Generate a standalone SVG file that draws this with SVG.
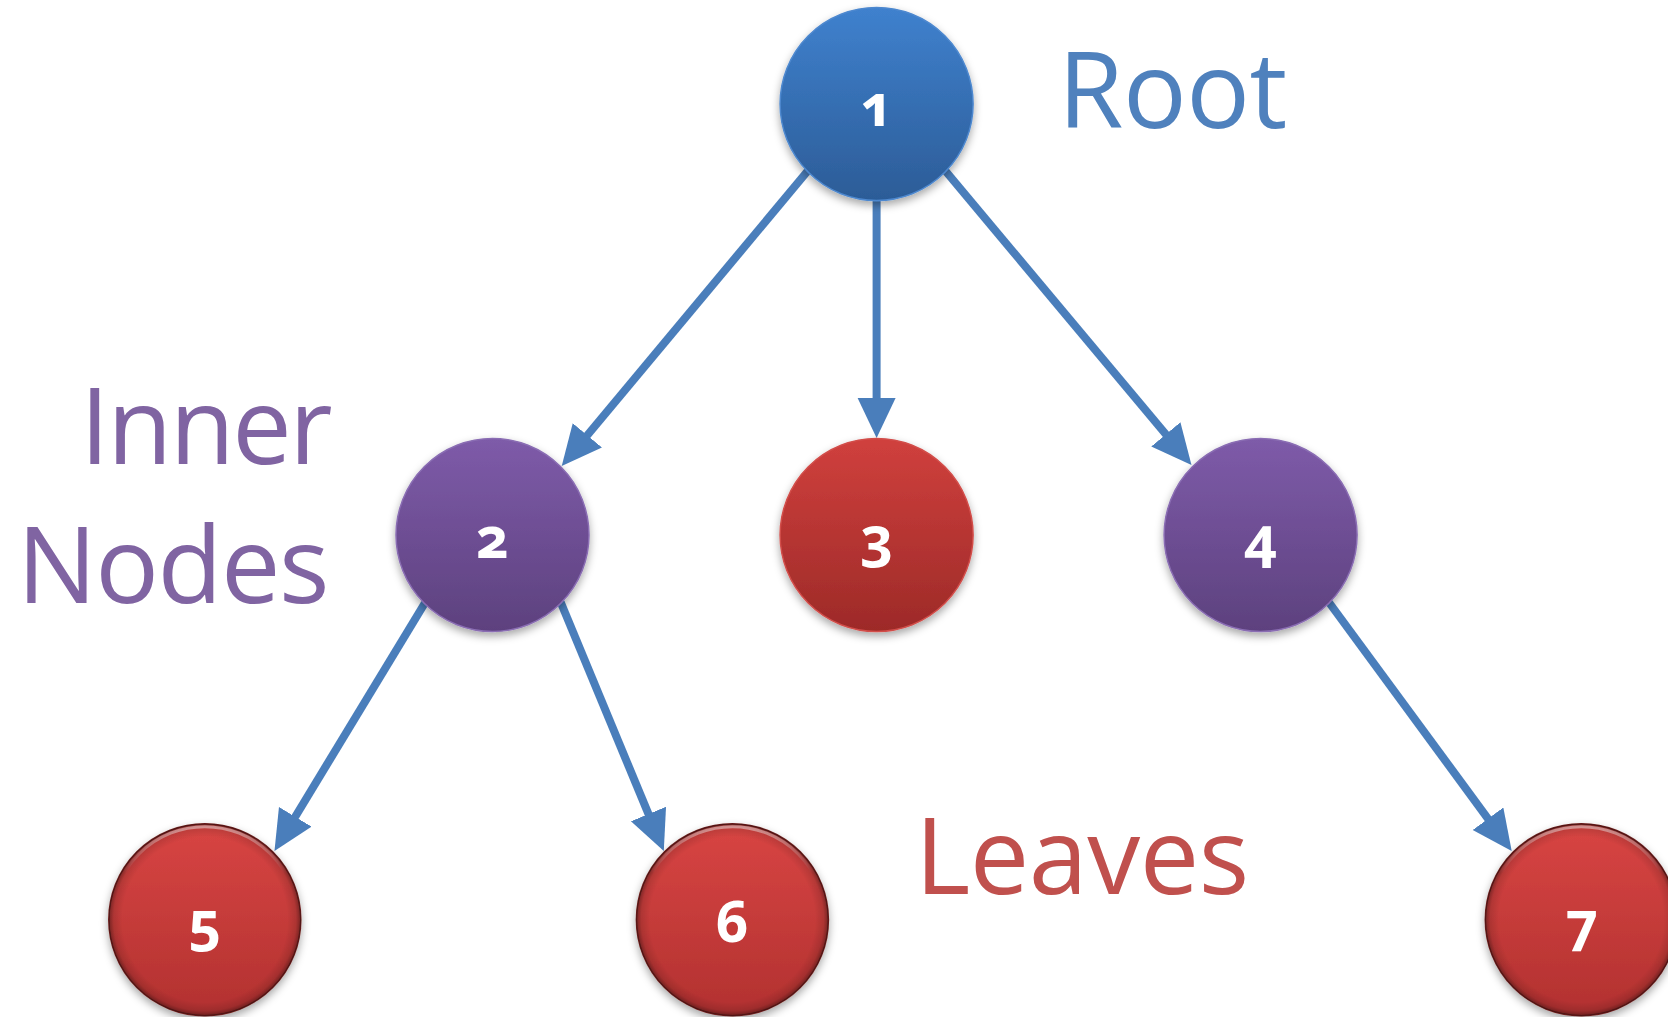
<svg xmlns="http://www.w3.org/2000/svg" width="1668" height="1017" viewBox="0 0 1668 1017">
<style>
.lbl{font-family:"Open Sans","Noto Sans","Liberation Sans",sans-serif;font-size:106px;}
.num{font-family:"Noto Sans","Open Sans","Liberation Sans",sans-serif;font-weight:bold;font-size:57px;fill:#ffffff;text-anchor:middle;font-variant-numeric:oldstyle-nums;font-feature-settings:"onum" 1;}
.edge{stroke:#4a7ebb;stroke-width:8;fill:none;marker-end:url(#arr);}
</style>
<defs>
<marker id="arr" markerUnits="userSpaceOnUse" markerWidth="42" markerHeight="40" refX="28" refY="19" orient="auto" viewBox="0 0 42 40">
<path d="M0,0 L40,19 L0,38 z" fill="#4a7ebb"/>
</marker>
<linearGradient id="gBlue" x1="0" y1="0" x2="0" y2="1">
<stop offset="0" stop-color="#3f81ce"/><stop offset="1" stop-color="#2c5c97"/>
</linearGradient>
<linearGradient id="gPurple" x1="0" y1="0" x2="0" y2="1">
<stop offset="0" stop-color="#7e5ba9"/><stop offset="1" stop-color="#5d417e"/>
</linearGradient>
<linearGradient id="gRed" x1="0" y1="0" x2="0" y2="1">
<stop offset="0" stop-color="#d0403d"/><stop offset="1" stop-color="#9d2a28"/>
</linearGradient>
<linearGradient id="gLeaf" x1="0" y1="0" x2="0" y2="1">
<stop offset="0" stop-color="#d84543"/><stop offset="1" stop-color="#b23130"/>
</linearGradient>
<radialGradient id="gBevel" cx="0.5" cy="0.5" r="0.5">
<stop offset="0.86" stop-color="#000" stop-opacity="0"/>
<stop offset="0.95" stop-color="#000" stop-opacity="0.12"/>
<stop offset="1" stop-color="#000" stop-opacity="0.4"/>
</radialGradient>
<linearGradient id="gHi" x1="0" y1="0" x2="0" y2="1">
<stop offset="0" stop-color="#fff" stop-opacity="0.45"/>
<stop offset="0.25" stop-color="#fff" stop-opacity="0"/>
</linearGradient>
<filter id="sh" x="-20%" y="-20%" width="140%" height="145%">
<feDropShadow dx="0" dy="4" stdDeviation="4" flood-color="#000" flood-opacity="0.35"/>
</filter>
</defs>
<rect width="1668" height="1017" fill="#ffffff"/>
<g id="connectors">
<line class="edge" x1="808.5" y1="170" x2="569.4" y2="456.8"/>
<line class="edge" x1="876.6" y1="201" x2="876.6" y2="426"/>
<line class="edge" x1="944.7" y1="170" x2="1183.8" y2="455.8"/>
<line class="edge" x1="425.5" y1="602" x2="280.7" y2="840.7"/>
<line class="edge" x1="560.6" y1="602" x2="659.2" y2="839.9"/>
<line class="edge" x1="1328.7" y1="602" x2="1504.6" y2="841.3"/>
</g>
<g id="node1">
<circle cx="876.6" cy="104" r="96.5" fill="url(#gBlue)" stroke="#4d88cf" stroke-width="1.5" filter="url(#sh)"/>
<text class="num" x="876.6" y="125.5">1</text>
</g>
<g id="node2">
<circle cx="492.5" cy="535" r="96.5" fill="url(#gPurple)" stroke="#8a6db3" stroke-width="1.5" filter="url(#sh)"/>
<text class="num" x="492.5" y="557.5">2</text>
</g>
<g id="node3">
<circle cx="876.6" cy="535" r="96.5" fill="url(#gRed)" stroke="#d24d4a" stroke-width="1.5" filter="url(#sh)"/>
<text class="num" x="876.6" y="557.5">3</text>
</g>
<g id="node4">
<circle cx="1260.6" cy="535" r="96.5" fill="url(#gPurple)" stroke="#8a6db3" stroke-width="1.5" filter="url(#sh)"/>
<text class="num" x="1260.6" y="557.5">4</text>
</g>
<g id="node5">
<circle cx="204.8" cy="919.7" r="96" fill="url(#gLeaf)" stroke="#6e1f1d" stroke-width="1.5" filter="url(#sh)"/>
<circle cx="204.8" cy="919.7" r="96" fill="url(#gBevel)"/>
<circle cx="204.8" cy="919.7" r="93" fill="none" stroke="url(#gHi)" stroke-width="3"/>
<text class="num" x="204.8" y="941.6">5</text>
</g>
<g id="node6">
<circle cx="732.4" cy="919.7" r="96" fill="url(#gLeaf)" stroke="#6e1f1d" stroke-width="1.5" filter="url(#sh)"/>
<circle cx="732.4" cy="919.7" r="96" fill="url(#gBevel)"/>
<circle cx="732.4" cy="919.7" r="93" fill="none" stroke="url(#gHi)" stroke-width="3"/>
<text class="num" x="732.4" y="941.6">6</text>
</g>
<g id="node7">
<circle cx="1581.3" cy="919.7" r="96" fill="url(#gLeaf)" stroke="#6e1f1d" stroke-width="1.5" filter="url(#sh)"/>
<circle cx="1581.3" cy="919.7" r="96" fill="url(#gBevel)"/>
<circle cx="1581.3" cy="919.7" r="93" fill="none" stroke="url(#gHi)" stroke-width="3"/>
<text class="num" x="1581.3" y="941.6">7</text>
</g>
<g id="labels">
<text class="lbl" x="1058" y="128" fill="#4f81bd" letter-spacing="-0.5">Root</text>
<text class="lbl" x="330" y="464" fill="#8064a2" text-anchor="end" letter-spacing="-2.5">Inner</text>
<text class="lbl" x="328" y="603" fill="#8064a2" text-anchor="end" letter-spacing="-1.5">Nodes</text>
<text class="lbl" x="915" y="894" fill="#c0504d" letter-spacing="-0.5">Leaves</text>
</g>
</svg>
